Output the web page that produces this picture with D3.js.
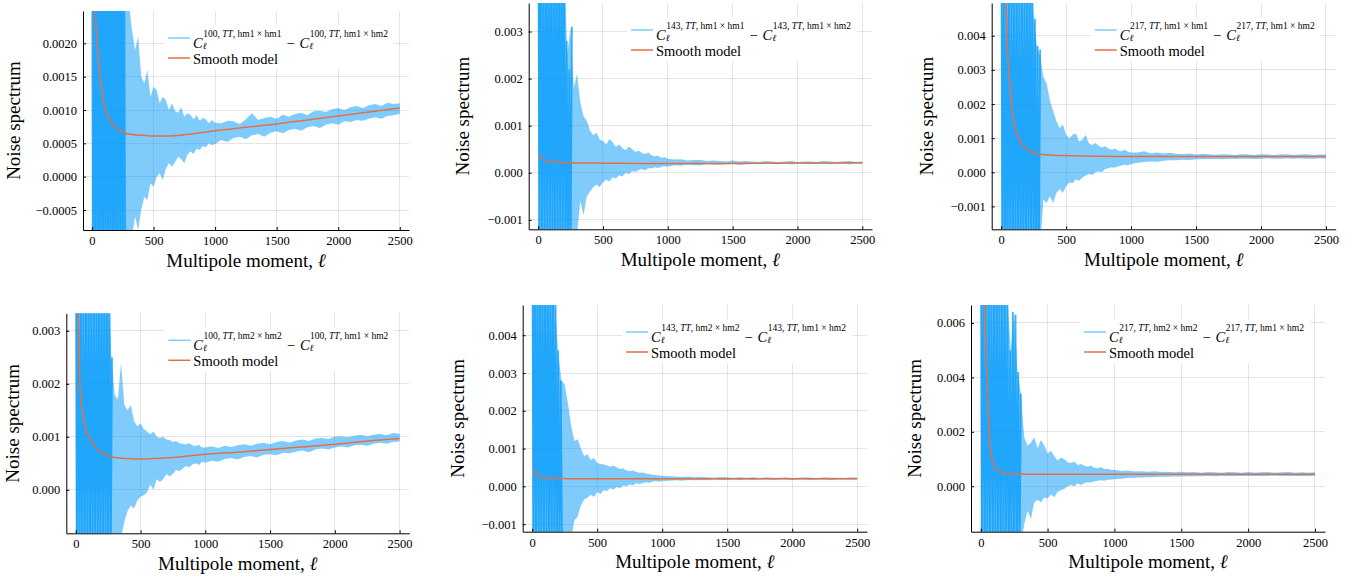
<!DOCTYPE html>
<html>
<head>
<meta charset="utf-8">
<script src="https://cdn.jsdelivr.net/npm/d3@7"></script>
<style>
  html, body { margin: 0; padding: 0; background: #fff; }
  svg { display: block; }
</style>
</head>
<body>
<svg id="fig" width="1364" height="581"></svg>
<script>
// ── shared axes / sample grids ─────────────────────────────
const X_DOMAIN = [-73, 2575];
const X_TICKS = [0, 500, 1000, 1500, 2000, 2500];

const ELL = [2,25,50,75,100,125,150,175,200,225,250,275,300,325,350,375,400,425,450,475,
  500,525,550,575,600,625,650,675,700,725,750,775,800,825,850,875,900,925,950,975,1000,
  1050,1100,1150,1200,1250,1300,1350,1400,1450,1500,1550,1600,1650,1700,1750,1800,1850,1900,1950,
  2000,2050,2100,2150,2200,2250,2300,2350,2400,2450,2500];
// low-ell raw trace (the saturated, off-scale part)
const SPIKE_ELL = [2,10,20,30,40,50,60,70,80,90,100,110,120,130,140,150,160,170,180,190,
  200,210,220,230,240,250,260,270,280,290,300];
// smooth model sample points
const MODEL_ELL = [10,20,30,40,50,60,70,80,100,125,150,200,250,300,400,500,600,800,1000,1250,1500,1750,2000,2250,2500];

// ── 100 GHz, hm1×hm1 − hm1×hm2 ─────────────────────────────
const HI_100_HM1 = [.003,.003,.003,.003,.003,.003,.003,.003,.003,.003,.003,.003,
  .0026,.0022,.0019,.0021,.0015,.0014,.0016,.0012,.00135,.0013,.0011,.0012,.00115,.001,.0011,.00098,
  .00096,.00104,.0009,.00095,.00093,.00086,.00092,.00084,.00088,.00086,.0008,.00085,.00081,
  .0008,.00084,.00083,.00079,.00086,.00095,.00085,.00088,.0009,.00087,.00093,.0009,.00094,.00096,.00092,
  .00098,.00099,.00097,.00101,.00103,.001,.00104,.00106,.00103,.00107,.00109,.00106,.00111,.00109,.0011];
const LO_100_HM1 = [-.0012,-.0012,-.0012,-.0012,-.0012,-.0012,-.0012,-.0012,-.0012,-.0012,-.0012,-.0012,
  -.0011,-.0009,-.0006,-.0008,-.0005,-.0003,-.00035,-.0001,-.00015,0,.00005,-.00005,.00012,.0002,.00015,.00022,
  .0003,.00026,.0002,.00033,.00038,.00034,.00042,.0004,.00046,.00044,.0005,.00047,.00049,
  .00055,.00052,.00058,.0006,.00056,.00062,.00064,.0006,.00066,.00068,.00065,.0007,.00072,.00069,.00074,
  .00076,.00073,.00078,.0008,.00078,.00083,.00082,.00085,.00084,.00087,.00089,.00087,.00091,.00092,.00094];
const SPK_100_HM1 = [.004,-.002,.0039,-.002,.004,-.0019,.004,-.002,.0038,-.002,.004,-.002,.004,-.0018,
  .004,-.002,.004,-.002,.0037,-.002,.004,-.002,.004,-.0019,.004,-.002,.004,-.0016];
const MOD_100_HM1 = [.0075,.0036,.00235,.00205,.00183,.0016,.00143,.0013,.00108,.00093,.00083,.00073,.00067,.00064,
  .00062,.00061,.00061,.00064,.00069,.00074,.00079,.00085,.00091,.00097,.00103];
const YT_100_HM1 = [-0.0005, 0, 0.0005, 0.001, 0.0015, 0.002];

// ── 143 GHz, hm1×hm1 − hm1×hm2 ─────────────────────────────
const HI_143_HM1 = [.0045,.0045,.0045,.0045,.0045,.0045,.0045,.0045,.0045,
  .0025,.0031,.0018,.0021,.0015,.0012,.0011,.0009,.0008,.00085,.0007,.00068,.0006,.00072,.00065,.00055,.0006,
  .00052,.00048,.00056,.0005,.00044,.00047,.00042,.0004,.00043,.00037,.00035,.00036,.00032,.00033,.0003,
  .00028,.00029,.00026,.00027,.00027,.00025,.00026,.00025,.00024,.00026,.00024,.00025,.00024,.00023,.00025,
  .00024,.00023,.00024,.00025,.00023,.00024,.00024,.00023,.00025,.00024,.00023,.00024,.00025,.00023,.00024];
const LO_143_HM1 = [-.0016,-.0016,-.0016,-.0016,-.0016,-.0016,-.0016,-.0016,-.0016,
  -.0016,-.0016,-.0014,-.0013,-.0006,-.0009,-.0005,-.0004,-.0003,-.00025,-.0003,-.0002,-.00015,-.00018,-.0001,-.00012,-.00005,
  -.00008,0,-.00003,.00004,.00002,.00006,.00008,.00005,.0001,.00009,.00012,.0001,.00013,.00014,.00013,
  .00016,.00015,.00017,.00016,.00016,.00018,.00017,.00017,.00018,.00019,.00017,.00018,.00019,.00018,.00019,
  .00019,.00018,.00019,.00018,.00019,.00019,.00018,.00019,.00019,.00018,.00019,.00019,.00018,.00019,.00019];
const SPK_143_HM1 = [.005,-.002,.005,-.002,.0048,-.002,.005,-.0019,.005,-.002,.005,-.002,.0047,-.002,
  .005,-.002,.005,-.002,.005,-.002,.005,-.002,.0028,-.002,.0022,-.002,.0031];
const MOD_143_HM1 = [.00037,.00033,.0003,.00028,.00027,.00026,.00025,.000245,.00024,.000232,.000227,.00022,.000215,.00021,
  .000207,.000205,.000203,.0002,.0002,.0002,.0002,.000203,.000206,.00021,.000213];
const YT_143_HM1 = [-0.001, 0, 0.001, 0.002, 0.003];

// ── 217 GHz, hm1×hm1 − hm1×hm2 ─────────────────────────────
const HI_217_HM1 = [.006,.006,.006,.006,.006,.006,.006,.006,.006,.006,
  .0045,.0037,.0034,.0028,.0026,.0021,.0018,.0015,.0013,.0014,.0011,.001,.0011,.00114,.0009,.00095,
  .0011,.00085,.0008,.00086,.00078,.00073,.00076,.0007,.00066,.0007,.00064,.00062,.00066,.0006,.00058,
  .00058,.00062,.00056,.00058,.00055,.00057,.00054,.00053,.00055,.00052,.00054,.00053,.00051,.00053,.00052,
  .00051,.00053,.00052,.00051,.00053,.00052,.00051,.00052,.00053,.00051,.00052,.00053,.00051,.00052,.00052];
const LO_217_HM1 = [-.0022,-.0022,-.0022,-.0022,-.0022,-.0022,-.0022,-.0022,-.0022,-.0022,-.0022,-.0022,-.0022,
  -.0008,-.0009,-.0007,-.0009,-.0006,-.0005,-.0006,-.0004,-.0003,-.00032,-.0002,-.00025,-.00015,-.0001,-.00005,
  -.00008,0,.00003,0,.0001,.00012,.00015,.00013,.00018,.0002,.00022,.0002,.00024,
  .00028,.0003,.00032,.00031,.00034,.00035,.00035,.00037,.00036,.00038,.00038,.00039,.00039,.00038,.0004,
  .00039,.0004,.0004,.00039,.0004,.00041,.0004,.0004,.00041,.0004,.00041,.0004,.0004,.00041,.0004];
const SPK_217_HM1 = [.006,-.003,.006,-.003,.0058,-.003,.006,-.003,.006,-.0028,.006,-.003,.006,-.003,
  .0057,-.003,.006,-.003,.006,-.003,.006,-.003,.006,-.003,.006,-.003,.0045,-.003,.0037,-.003,.0036];
const MOD_217_HM1 = [.02,.009,.0058,.0045,.0035,.0029,.0024,.002,.0014,.00108,.00088,.00067,.00057,.00053,
  .0005,.00049,.00048,.00047,.00046,.00046,.00046,.00046,.00046,.00046,.00046];
const YT_217_HM1 = [-0.001, 0, 0.001, 0.002, 0.003, 0.004];

// ── 100 GHz, hm2×hm2 − hm1×hm2 ─────────────────────────────
const HI_100_HM2 = [.004,.004,.004,.004,.004,.004,.004,.004,.004,.004,.004,
  .0025,.0018,.0017,.0024,.0016,.0015,.0016,.0013,.0012,.00125,.00115,.0011,.00105,.0011,.001,
  .00098,.001,.00095,.00094,.0009,.00092,.00088,.00087,.00086,.00088,.00084,.00082,.00085,.0008,.0008,
  .00082,.00079,.00083,.00081,.00084,.00086,.00083,.00087,.00089,.00086,.0009,.00092,.00089,.00093,.00095,
  .00092,.00097,.00098,.00096,.001,.00101,.00099,.00102,.00104,.00101,.00104,.00106,.00103,.00107,.00106];
const LO_100_HM2 = [-.0012,-.0012,-.0012,-.0012,-.0012,-.0012,-.0012,-.0012,-.0012,-.0012,-.0012,-.0012,-.0012,
  -.0012,-.0009,-.0006,-.0004,-.0003,-.00035,-.0002,-.00013,-.0001,-.00005,.0001,0,.0002,.00015,.0002,
  .0003,.00025,.0003,.00038,.00035,.0004,.00045,.00042,.00048,.0005,.00047,.00053,.00051,
  .00055,.00053,.00058,.0006,.00057,.00062,.00064,.00061,.00066,.00067,.00065,.0007,.00069,.00072,.00074,
  .00071,.00076,.00078,.00076,.0008,.00082,.0008,.00084,.00085,.00083,.00087,.00089,.00087,.0009,.00091];
const SPK_100_HM2 = [.004,-.0015,.004,-.0015,.0039,-.0015,.004,-.0014,.004,-.0015,.004,-.0015,.0038,-.0015,
  .004,-.0015,.004,-.0015,.004,-.0015,.004,-.0015,.004,-.0015,.004,-.0015,.004,-.0015,.0025];
const MOD_100_HM2 = [.007,.0034,.0021,.0017,.0015,.00135,.00122,.00112,.00101,.0009,.00081,.0007,.00064,.00061,
  .00059,.00058,.00059,.00062,.00067,.00071,.00076,.00081,.00086,.00092,.00097];
const YT_100_HM2 = [0, 0.001, 0.002, 0.003];

// ── 143 GHz, hm2×hm2 − hm1×hm2 ─────────────────────────────
const HI_143_HM2 = [.006,.006,.006,.006,.006,.006,.006,
  .0048,.0035,.0028,.0027,.0022,.0016,.0012,.00125,.001,.0008,.00085,.0007,.00075,.00062,.0006,.00058,.00055,
  .00052,.00055,.0005,.00046,.00047,.00042,.0004,.00042,.00038,.00036,.00037,.00034,.00033,.00031,.0003,.00029,.00028,
  .00027,.00026,.00025,.00026,.00024,.00025,.00024,.00023,.00025,.00024,.00023,.00024,.00023,.00024,.00022,
  .00024,.00023,.00023,.00024,.00022,.00023,.00024,.00023,.00022,.00024,.00023,.00023,.00022,.00024,.00023];
const LO_143_HM2 = [-.0016,-.0016,-.0016,-.0016,-.0016,-.0016,-.0016,-.0016,-.0016,-.0016,-.0016,-.0016,
  -.0014,-.0009,-.0008,-.0005,-.00035,-.0003,-.00022,-.00028,-.00015,-.0002,-.0001,-.00012,-.00005,-.00008,-.00002,-.00005,
  .00002,0,.00005,.00003,.00008,.00006,.00009,.00011,.00009,.00012,.00014,.00012,.00014,
  .00015,.00016,.00015,.00017,.00016,.00017,.00016,.00018,.00017,.00017,.00018,.00017,.00018,.00017,.00018,
  .00018,.00017,.00018,.00018,.00017,.00018,.00018,.00017,.00018,.00018,.00017,.00018,.00018,.00018,.00018];
const SPK_143_HM2 = [.006,-.002,.006,-.002,.0058,-.002,.006,-.002,.006,-.0019,.006,-.002,.006,-.002,
  .0057,-.002,.006,-.002,.0048,-.002,.0036,-.002,.0028,-.002];
const MOD_143_HM2 = [.00045,.00038,.00032,.00029,.00027,.00025,.00024,.000235,.000225,.00022,.000215,.00021,.000205,.0002,
  .0002,.0002,.0002,.0002,.0002,.0002,.0002,.0002,.0002,.0002,.0002];
const YT_143_HM2 = [-0.001, 0, 0.001, 0.002, 0.003, 0.004];

// ── 217 GHz, hm2×hm2 − hm1×hm2 ─────────────────────────────
const HI_217_HM2 = [.008,.008,.008,.008,.008,.008,.008,.008,
  .0068,.005,.0064,.0042,.0034,.0018,.0015,.0016,.0018,.0014,.0017,.0015,.0012,.0013,.0011,.00095,.00105,.001,
  .00088,.00085,.0009,.00078,.00082,.00075,.00072,.00076,.00068,.00066,.0007,.00063,.00064,.0006,.00061,
  .00056,.00058,.00054,.00055,.00053,.00055,.00052,.00053,.00051,.00053,.00051,.00052,.0005,.00052,.00051,
  .0005,.00052,.00051,.0005,.00052,.0005,.00051,.00052,.0005,.00051,.00052,.0005,.00051,.0005,.00051];
const LO_217_HM2 = [-.0022,-.0022,-.0022,-.0022,-.0022,-.0022,-.0022,-.0022,-.0022,-.0022,-.0022,-.0022,-.0022,
  -.0014,-.0009,-.0012,-.0006,-.0005,-.0006,-.0004,-.00045,-.0003,-.0004,-.0002,-.00015,-.0001,0,.00005,
  0,.0001,.00005,.00012,.00015,.00014,.00018,.0002,.00022,.0002,.00024,.00025,.00026,
  .00028,.0003,.00031,.00032,.00033,.00034,.00035,.00035,.00036,.00036,.00037,.00037,.00037,.00038,.00037,
  .00038,.00038,.00038,.00038,.00038,.00038,.00038,.00038,.00039,.00038,.00038,.00038,.00038,.00038,.00038];
const SPK_217_HM2 = [.008,-.003,.008,-.003,.0078,-.003,.008,-.003,.008,-.0029,.008,-.003,.008,-.003,
  .0077,-.003,.008,-.003,.008,-.003,.0068,-.003,.005,-.003,.0064,-.003,.0063,-.003,.0042,-.003,.0034];
const MOD_217_HM2 = [.03,.012,.0068,.0048,.0034,.0022,.00146,.0011,.00075,.0006,.00052,.00047,.00045,.00045,
  .00044,.00044,.00044,.00044,.00044,.00044,.00044,.00044,.00044,.00044,.00044];
const YT_217_HM2 = [0, 0.002, 0.004, 0.006];

const PANELS = [
  {freq:"100", a:"hm1 × hm1", b:"hm1 × hm2", hi:HI_100_HM1, lo:LO_100_HM1, spk:SPK_100_HM1, mod:MOD_100_HM1, yt:YT_100_HM1, ylim:[-0.0008, 0.002485], fmt:".4f"},
  {freq:"143", a:"hm1 × hm1", b:"hm1 × hm2", hi:HI_143_HM1, lo:LO_143_HM1, spk:SPK_143_HM1, mod:MOD_143_HM1, yt:YT_143_HM1, ylim:[-0.0012, 0.003606], fmt:".3f"},
  {freq:"217", a:"hm1 × hm1", b:"hm1 × hm2", hi:HI_217_HM1, lo:LO_217_HM1, spk:SPK_217_HM1, mod:MOD_217_HM1, yt:YT_217_HM1, ylim:[-0.00167, 0.00496], fmt:".3f"},
  {freq:"100", a:"hm2 × hm2", b:"hm1 × hm2", hi:HI_100_HM2, lo:LO_100_HM2, spk:SPK_100_HM2, mod:MOD_100_HM2, yt:YT_100_HM2, ylim:[-0.00082, 0.00333], fmt:".3f"},
  {freq:"143", a:"hm2 × hm2", b:"hm1 × hm2", hi:HI_143_HM2, lo:LO_143_HM2, spk:SPK_143_HM2, mod:MOD_143_HM2, yt:YT_143_HM2, ylim:[-0.0012, 0.0048], fmt:".3f"},
  {freq:"217", a:"hm2 × hm2", b:"hm1 × hm2", hi:HI_217_HM2, lo:LO_217_HM2, spk:SPK_217_HM2, mod:MOD_217_HM2, yt:YT_217_HM2, ylim:[-0.00167, 0.00666], fmt:".3f"},
];

// plot boxes (px) and y-label baseline x
const LAYOUT = [
  {l:83,    r:409,    t:11,    b:230,   ylx:19.7},
  {l:528.7, r:872,    t:3,     b:229.3, ylx:469.4},
  {l:991.7, r:1335.7, t:3,     b:229.3, ylx:933},
  {l:66.3,  r:409.3,  t:313.3, b:533.3, ylx:19.4},
  {l:522.7, r:867,    t:305,   b:531.7, ylx:464.4},
  {l:971,   r:1325,   t:305,   b:531.7, ylx:921},
];

const FONT = '"Liberation Serif","DejaVu Serif",serif';
const BLUE = "#009AFA", ORANGE = "#E36F47";
const NBSP = "\u00A0";

const svg = d3.select("#fig").attr("font-family", FONT);
const defs = svg.append("defs");

PANELS.forEach((p, i) => {
  const L = LAYOUT[i];
  const x = d3.scaleLinear().domain(X_DOMAIN).range([L.l, L.r]);
  const y = d3.scaleLinear().domain(p.ylim).range([L.b, L.t]);
  const g = svg.append("g");

  defs.append("clipPath").attr("id", "clip" + i)
    .append("rect").attr("x", L.l).attr("y", L.t).attr("width", L.r - L.l).attr("height", L.b - L.t);

  // grid
  const grid = g.append("g").attr("stroke", "#000").attr("stroke-opacity", 0.1).attr("shape-rendering", "crispEdges");
  grid.selectAll(".gx").data(X_TICKS).join("line")
    .attr("x1", d => x(d)).attr("x2", d => x(d)).attr("y1", L.t).attr("y2", L.b);
  grid.selectAll(".gy").data(p.yt).join("line")
    .attr("x1", L.l).attr("x2", L.r).attr("y1", d => y(d)).attr("y2", d => y(d));

  const plot = g.append("g").attr("clip-path", `url(#clip${i})`);

  // noise envelope (light blue band)
  const band = d3.area()
    .x((d, j) => x(ELL[j]))
    .y0((d, j) => y(p.lo[j]))
    .y1(d => y(d));
  plot.append("path").datum(p.hi).attr("d", band)
    .attr("fill", BLUE).attr("fill-opacity", 0.5);

  // dense low-ell trace
  const trace = d3.line().x((d, j) => x(SPIKE_ELL[j])).y(d => y(d));
  plot.append("path").datum(p.spk).attr("d", trace)
    .attr("fill", "none").attr("stroke", BLUE).attr("stroke-opacity", 0.75).attr("stroke-width", 1.8);

  // smooth model
  const model = d3.line().x((d, j) => x(MODEL_ELL[j])).y(d => y(d)).curve(d3.curveMonotoneX);
  plot.append("path").datum(p.mod).attr("d", model)
    .attr("fill", "none").attr("stroke", ORANGE).attr("stroke-width", 1.5);

  // axes
  const ax = g.append("g").attr("transform", `translate(0,${L.b})`)
    .call(d3.axisBottom(x).tickValues(X_TICKS).tickFormat(d3.format("d")).tickSize(-3).tickSizeOuter(0).tickPadding(6));
  const ay = g.append("g").attr("transform", `translate(${L.l},0)`)
    .call(d3.axisLeft(y).tickValues(p.yt).tickFormat(d3.format(p.fmt)).tickSize(-3).tickSizeOuter(0).tickPadding(6));
  [ax, ay].forEach(a => {
    a.attr("font-family", FONT).attr("font-size", 12.5);
    a.selectAll("text").attr("fill", "#000");
    a.select(".domain").attr("stroke", "#000").attr("stroke-width", 1);
  });

  // axis labels
  const xl = g.append("text").attr("x", (L.l + L.r) / 2).attr("y", L.b + 36.5)
    .attr("text-anchor", "middle").attr("font-size", 19).attr("fill", "#000");
  xl.append("tspan").text("Multipole moment, ");
  xl.append("tspan").attr("font-style", "italic").text("ℓ");
  g.append("text").attr("transform", `translate(${L.ylx},${(L.t + L.b) / 2}) rotate(-90)`)
    .attr("text-anchor", "middle").attr("font-size", 19).attr("fill", "#000")
    .text("Noise spectrum");

  drawLegend(g, p, L);
});

function drawLegend(g, p, L) {
  const lg = g.append("g");
  const bg = lg.append("rect").attr("fill", "#fff");
  const y1 = L.t + 27, y2 = L.t + 47;
  const tg = lg.append("g");
  // one text element holds the whole legend (math pieces as tspans)
  const t = tg.append("text").attr("fill", "#000");
  let cx = 0;

  function piece(str, px, py, size, italic) {
    const ts = t.append("tspan").attr("x", px).attr("y", py).attr("font-size", size)
      .attr("font-style", italic ? "italic" : "normal").text(str);
    return ts.node().getComputedTextLength();
  }
  function term(pair) {
    const wC = piece("C", cx, y1 + 9.5, 14.5, true);
    let sx = cx + wC + 0.5;
    sx += piece(p.freq + "," + NBSP, sx, y1 - 1, 9.5, false);
    sx += piece("TT", sx, y1 - 1, 9.5, true);
    sx += piece("," + NBSP + pair.replace(/ /g, NBSP), sx, y1 - 1, 9.5, false);
    piece("ℓ", cx + wC, y1 + 10.5, 9.5, true);
    cx = sx;
  }

  term(p.a);
  cx += 5;
  cx += piece("−", cx, y1 + 9.5, 14.5, false) + 5;
  term(p.b);
  piece("Smooth" + NBSP + "model", 0, y2 + 6, 14.5, false);

  const textEnd = L.r - 21;
  const textStart = textEnd - cx;
  tg.attr("transform", `translate(${textStart},0)`);

  const lx0 = textStart - 25;
  bg.attr("x", lx0 - 4).attr("y", y1 - 13).attr("width", textEnd + 6 - (lx0 - 4)).attr("height", (y2 + 11) - (y1 - 13));

  lg.append("line").attr("x1", lx0).attr("x2", lx0 + 22).attr("y1", y1).attr("y2", y1)
    .attr("stroke", BLUE).attr("stroke-opacity", 0.5).attr("stroke-width", 1.5);
  lg.append("line").attr("x1", lx0).attr("x2", lx0 + 22).attr("y1", y2).attr("y2", y2)
    .attr("stroke", ORANGE).attr("stroke-width", 1.5);
}
</script>
</body>
</html>
